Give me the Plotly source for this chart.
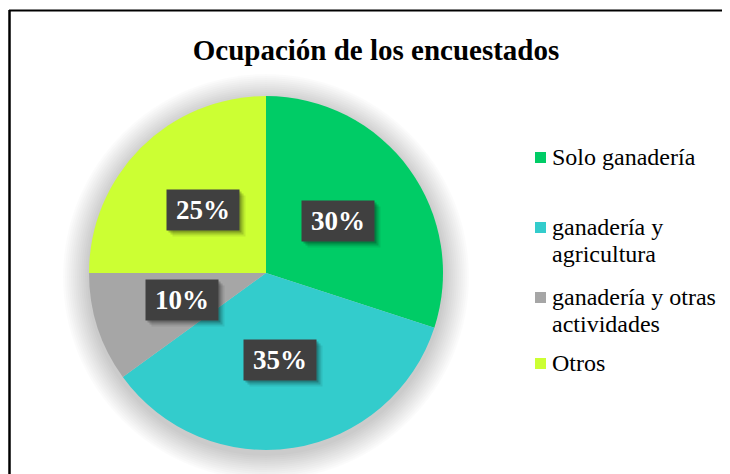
import math
import plotly.graph_objects as go

# ---- data ----
categories = ["Solo ganadería", "ganadería y agricultura",
              "ganadería y otras actividades", "Otros"]
legend_labels = ["Solo ganadería", "ganadería y<br>agricultura",
                 "ganadería y otras<br>actividades", "Otros"]
values = [30, 35, 10, 25]
colors = ["#00CC66", "#33CCCC", "#A6A6A6", "#CCFF33"]
title_text = "Ocupación de los encuestados"

W, H = 730, 474
OFF = 8  # page body margin
SERIF = "Liberation Serif, Times New Roman, serif"


def px(x):
    return (x - OFF) / W


def py(y):
    return 1 - (y - OFF) / H


# pie geometry (page pixels)
cx_px, cy_px, R = 266, 273, 177

fig = go.Figure()
fig.add_trace(go.Pie(
    labels=categories, values=values, sort=False, direction="clockwise",
    rotation=0, marker=dict(colors=colors, line=dict(width=0)),
    textinfo="none", hoverinfo="label+percent", showlegend=False,
    domain=dict(x=[px(cx_px - R), px(cx_px + R)],
                y=[py(cy_px + R), py(cy_px - R)]),
))

shapes = []
# soft shadow around pie
for k in range(13, 0, -1):
    rr = R + 2 * k
    oy = 4
    shapes.append(dict(type="circle", xref="paper", yref="paper", layer="below",
                       x0=px(cx_px - rr), x1=px(cx_px + rr),
                       y0=py(cy_px + oy + rr), y1=py(cy_px + oy - rr),
                       fillcolor="rgba(0,0,0,0.014)", line=dict(width=0)))
# chart frame (extends beyond window right/bottom)
shapes.append(dict(type="line", xref="paper", yref="paper", x0=px(9), x1=1.01,
                   y0=py(10.5), y1=py(10.5), line=dict(color="black", width=2)))
shapes.append(dict(type="line", xref="paper", yref="paper", x0=px(9.5), x1=px(9.5),
                   y0=py(10), y1=-0.01, line=dict(color="black", width=2.5)))

annotations = []
total = sum(values)
cum = 0
for v in values:
    theta = math.radians(360 * (cum + v / 2) / total)
    cum += v
    r = 0.5 * R
    x = px(cx_px + r * math.sin(theta))
    y = py(cy_px - r * math.cos(theta))
    pct = f"{round(100 * v / total)}%"
    for sx, sy, a in [(6, -6, 0.08), (4, -4, 0.14), (2, -2, 0.2)]:
        annotations.append(dict(x=x, y=y, xref="paper", yref="paper", text=" ",
                                xanchor="center", yanchor="middle",
                                showarrow=False, width=70, height=38, xshift=sx, yshift=sy,
                                bgcolor=f"rgba(0,0,0,{a})", font=dict(size=10)))
    annotations.append(dict(x=x, y=y, xref="paper", yref="paper", text=f"<b>{pct}</b>",
                            xanchor="center", yanchor="middle",
                            showarrow=False, width=70, height=38, bgcolor="#404040",
                            font=dict(family=SERIF, size=27, color="white")))

# legend (manual)
leg_y = [157, 227, 297, 363]
line_gap = 27
for lab, col, ly in zip(legend_labels, colors, leg_y):
    shapes.append(dict(type="rect", xref="paper", yref="paper",
                       x0=px(535), x1=px(546), y0=py(ly + 6), y1=py(ly - 5),
                       fillcolor=col, line=dict(width=0)))
    for j, part in enumerate(lab.split("<br>")):
        annotations.append(dict(x=px(550), y=py(ly + j * line_gap), xref="paper", yref="paper",
                                text=part, showarrow=False, xanchor="left", yanchor="middle",
                                align="left", font=dict(family=SERIF, size=24, color="black")))

fig.update_layout(
    width=W, height=H, margin=dict(l=0, r=0, t=0, b=0),
    paper_bgcolor="white", plot_bgcolor="white",
    title=dict(text=f"<b>{title_text}</b>", x=px(376), xanchor="center",
               y=py(50), yanchor="middle",
               font=dict(family=SERIF, size=29, color="black")),
    shapes=shapes, annotations=annotations,
)

fig.write_html("out.html")
